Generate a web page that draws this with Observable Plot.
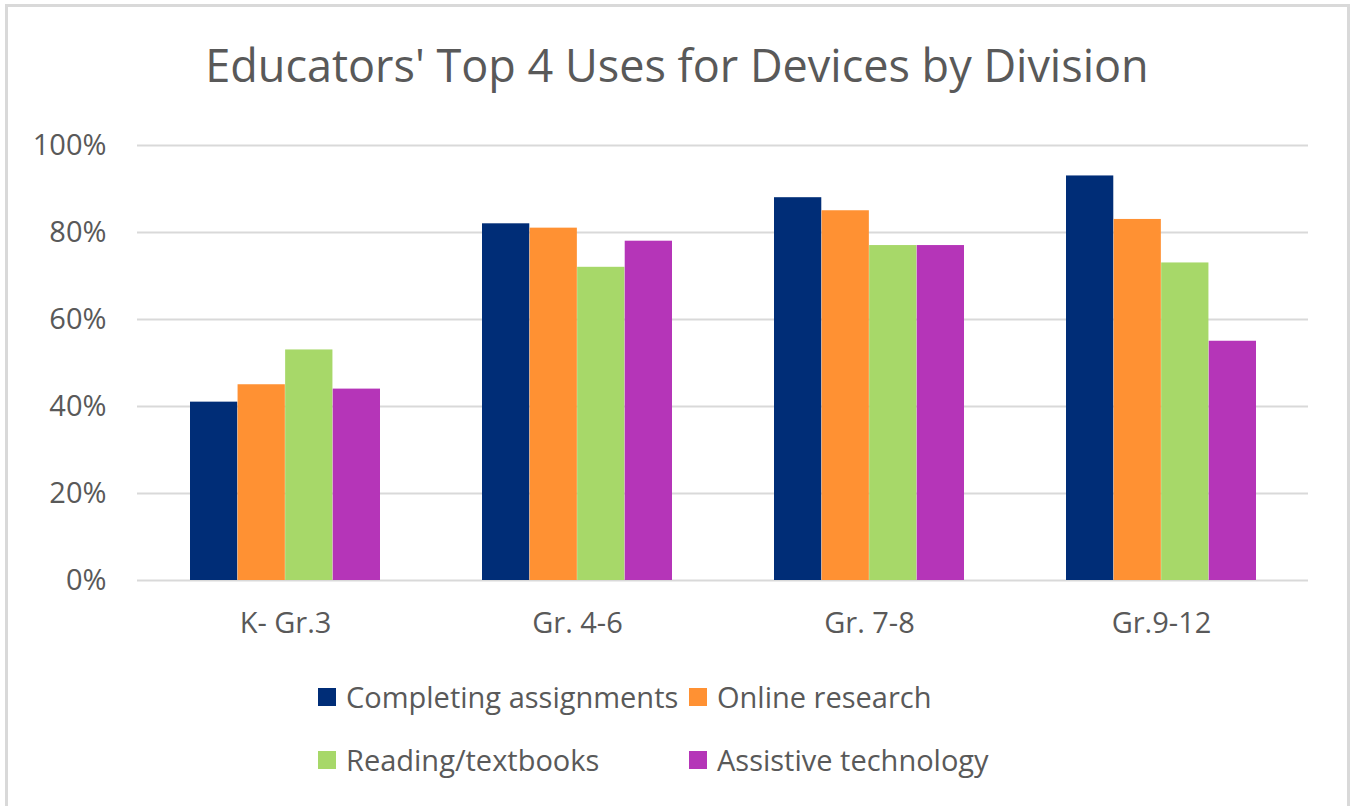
<!DOCTYPE html>
<html>
<head>
<meta charset="utf-8">
<script src="https://cdn.jsdelivr.net/npm/d3@7"></script>
<script src="https://cdn.jsdelivr.net/npm/@observablehq/plot@0.6"></script>
<style>
  html, body { margin: 0; padding: 0; background: #fff; }
  #wrap { position: relative; width: 1351px; height: 806px; overflow: hidden; font-family: "Open Sans", Lato, sans-serif; color: #595959; }
  #border { position: absolute; left: 5px; top: 4px; width: 1345px; height: 830px; box-sizing: border-box; border: 3px solid #d9d9d9; }
  #title { position: absolute; left: 0; width: 1354px; top: 38px; text-align: center; font-size: 45px; line-height: 1.2; white-space: nowrap; }
  #chart { position: absolute; left: 0; top: 120px; }
  .leg { position: absolute; display: flex; align-items: center; font-size: 29px; line-height: 1.2; white-space: nowrap; }
  .sw { width: 18px; height: 18px; margin-right: 10px; flex: none; }
</style>
</head>
<body>
<div id="wrap">
  <div id="border"></div>
  <div id="title">Educators' Top 4 Uses for Devices by Division</div>
  <div id="chart"></div>
  <div id="legend"></div>
</div>
<script>
const groups = ["K- Gr.3", "Gr. 4-6", "Gr. 7-8", "Gr.9-12"];
const series = ["Completing assignments", "Online research", "Reading/textbooks", "Assistive technology"];
const completing = [41, 82, 88, 93];
const online = [45, 81, 85, 83];
const reading = [53, 72, 77, 73];
const assistive = [44, 78, 77, 55];
const colors = ["#002D77", "#FF9133", "#A7D869", "#B535B8"];
const yTicks = [0, 20, 40, 60, 80, 100];

const valuesBySeries = [completing, online, reading, assistive];
const data = [];
series.forEach((s, i) => groups.forEach((g, j) => data.push({group: g, series: s, value: valuesBySeries[i][j]})));

const width = 1351, height = 530;
const marginLeft = 137, marginRight = 43, marginTop = 25, marginBottom = 70;
const paddingInner = 0.35, paddingOuter = 0.175;
const step = (width - marginLeft - marginRight) / (groups.length - paddingInner + 2 * paddingOuter);
const bw = step * (1 - paddingInner);
const sub = bw / series.length;

const marks = [Plot.ruleY(yTicks, {stroke: "#d9d9d9", strokeWidth: 2})];
series.forEach((s, i) => {
  marks.push(Plot.barY(data.filter(d => d.series === s), {
    x: "group", y: "value", fill: colors[i],
    insetLeft: i * sub, insetRight: (series.length - 1 - i) * sub
  }));
});

const chart = Plot.plot({
  width, height, marginLeft, marginRight, marginTop, marginBottom,
  style: {fontSize: "29px", fontFamily: "'Open Sans', Lato, sans-serif", color: "#595959", background: "transparent"},
  x: {domain: groups, paddingInner, paddingOuter, tickSize: 0, tickPadding: 32, label: null},
  y: {domain: [0, 100], ticks: yTicks, tickFormat: d => d + "%", tickSize: 0, tickPadding: 31, label: null},
  marks
});
document.getElementById("chart").appendChild(chart);

const legendPos = [[318, 680], [689, 680], [318, 743], [689, 743]];
const legend = document.getElementById("legend");
series.forEach((s, i) => {
  const item = document.createElement("div");
  item.className = "leg";
  item.style.left = legendPos[i][0] + "px";
  item.style.top = legendPos[i][1] + "px";
  const sw = document.createElement("span");
  sw.className = "sw";
  sw.style.background = colors[i];
  const t = document.createElement("span");
  t.textContent = s;
  item.appendChild(sw);
  item.appendChild(t);
  legend.appendChild(item);
});
</script>
</body>
</html>
